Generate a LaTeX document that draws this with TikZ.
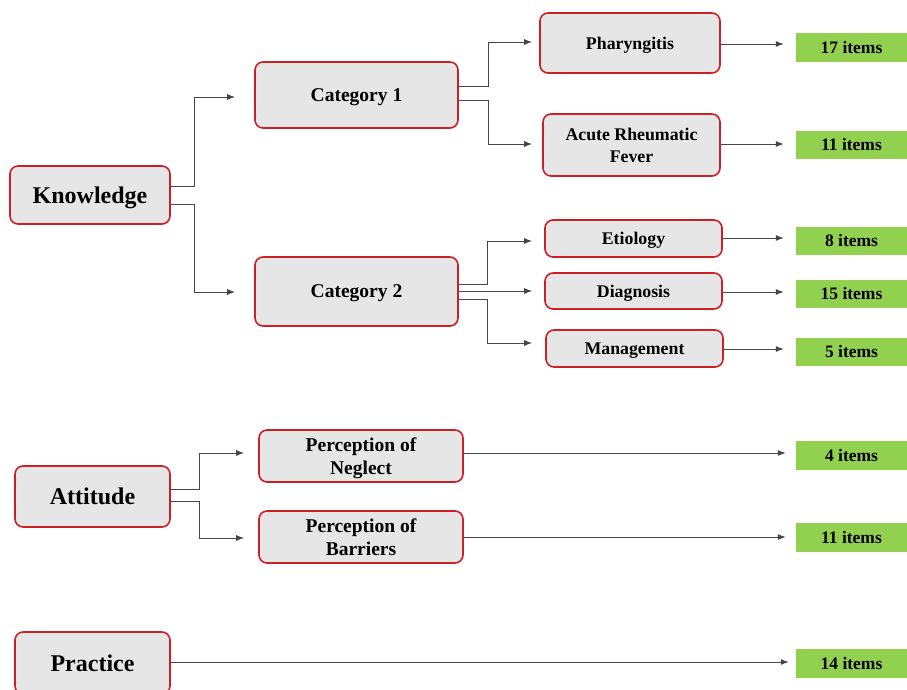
\documentclass[tikz,border=0pt]{standalone}
\usepackage{fontspec}
\setmainfont{Liberation Serif}
\usetikzlibrary{arrows.meta}
\definecolor{boxred}{RGB}{204,32,38}
\definecolor{boxfill}{RGB}{230,230,230}
\definecolor{itemgreen}{RGB}{146,208,80}
\definecolor{linegray}{RGB}{70,70,70}
\begin{document}
\begin{tikzpicture}[x=1pt,y=-1pt,
  box/.style={draw=boxred, line width=1.6pt, fill=boxfill, rounded corners=8pt,
    inner sep=0pt, align=center, text=black, text depth=-3pt},
  big/.style={font=\bfseries\fontsize{24}{28}\selectfont},
  mid/.style={font=\bfseries\fontsize{19.5}{22.5}\selectfont},
  small/.style={font=\bfseries\fontsize{17.8}{22}\selectfont},
  item/.style={fill=itemgreen, inner sep=0pt, minimum width=111pt,
    font=\bfseries\fontsize{17.5}{20}\selectfont, text=black},
  conn/.style={draw=linegray, line width=1pt, -{Latex[length=8pt,width=6pt]}}]
\useasboundingbox (0,0) rectangle (907,689);
\clip (0,0) rectangle (907,689);
\fill[white] (0,0) rectangle (907,689);

% level 1
\node[box,big,minimum width=160pt,minimum height=58pt] (know) at (90,195) {Knowledge};
\node[box,big,minimum width=155pt,minimum height=61pt] (att) at (92.5,496.5) {Attitude};
\node[box,big,minimum width=155pt,minimum height=62pt] (prac) at (92.5,663) {Practice};

% level 2
\node[box,mid,minimum width=203pt,minimum height=66pt] (cat1) at (356.5,95) {Category 1};
\node[box,mid,minimum width=203pt,minimum height=69pt] (cat2) at (356.5,291.5) {Category 2};
\node[box,mid,minimum width=204pt,minimum height=52pt] (negl) at (361,456) {Perception of\\Neglect};
\node[box,mid,minimum width=204pt,minimum height=52pt] (barr) at (361,537) {Perception of\\Barriers};

% level 3
\node[box,small,minimum width=180pt,minimum height=60pt] (phar) at (630,43) {Pharyngitis};
\node[box,small,minimum width=177pt,minimum height=62pt] (arf) at (631.5,145) {Acute Rheumatic\\Fever};
\node[box,small,minimum width=177pt,minimum height=37pt] (etio) at (633.5,238.5) {Etiology};
\node[box,small,minimum width=177pt,minimum height=36pt] (diag) at (633.5,291) {Diagnosis};
\node[box,small,minimum width=177pt,minimum height=37pt] (mgmt) at (634.5,348.5) {Management};

% items
\node[item,minimum height=29pt] (i17) at (851.5,47.5) {17 items};
\node[item,minimum height=28pt] (i11a) at (851.5,145) {11 items};
\node[item,minimum height=28pt] (i8) at (851.5,241) {8 items};
\node[item,minimum height=28pt] (i15) at (851.5,294) {15 items};
\node[item,minimum height=28pt] (i5) at (851.5,352) {5 items};
\node[item,minimum height=29pt] (i4) at (851.5,455.5) {4 items};
\node[item,minimum height=29pt] (i11b) at (851.5,537.5) {11 items};
\node[item,minimum height=29pt] (i14) at (851.5,663.5) {14 items};

% Knowledge connectors
\draw[conn,shorten >=19pt] (know.east |- 0,186) -- ++(24,0) |- (cat1.west |- 0,97);
\draw[conn,shorten >=19pt] (know.east |- 0,204) -- ++(24,0) |- (cat2.west |- 0,292);

% Category 1 connectors
\draw[conn,shorten >=7pt] (cat1.east |- 0,86) -- ++(30,0) |- (phar.west |- 0,42);
\draw[conn,shorten >=10pt] (cat1.east |- 0,100) -- ++(30,0) |- (arf.west |- 0,144);

% Category 2 connectors
\draw[conn,shorten >=12pt] (cat2.east |- 0,284) -- ++(29,0) |- (etio.west |- 0,241);
\draw[conn,shorten >=12pt] (cat2.east |- 0,291) -- (diag.west |- 0,291);
\draw[conn,shorten >=13pt] (cat2.east |- 0,299) -- ++(29,0) |- (mgmt.west |- 0,343);

% Attitude connectors
\draw[conn,shorten >=14pt] (att.east |- 0,489) -- ++(29,0) |- (negl.west |- 0,453);
\draw[conn,shorten >=14pt] (att.east |- 0,501) -- ++(29,0) |- (barr.west |- 0,538);

% item connectors
\draw[conn,shorten >=12pt] (phar.east |- 0,44) -- (i17.west |- 0,44);
\draw[conn,shorten >=12pt] (arf.east |- 0,144) -- (i11a.west |- 0,144);
\draw[conn,shorten >=12pt] (etio.east |- 0,238) -- (i8.west |- 0,238);
\draw[conn,shorten >=12pt] (diag.east |- 0,292) -- (i15.west |- 0,292);
\draw[conn,shorten >=12pt] (mgmt.east |- 0,349) -- (i5.west |- 0,349);
\draw[conn,shorten >=10pt] (negl.east |- 0,453) -- (i4.west |- 0,453);
\draw[conn,shorten >=10pt] (barr.east |- 0,537) -- (i11b.west |- 0,537);
\draw[conn,shorten >=7pt] (prac.east |- 0,662) -- (i14.west |- 0,662);
\end{tikzpicture}
\end{document}
